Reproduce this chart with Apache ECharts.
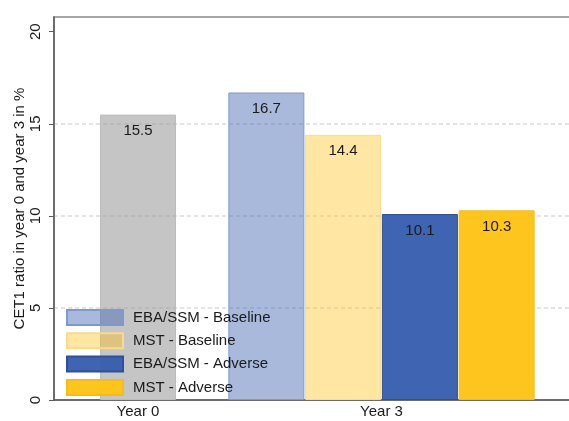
<!DOCTYPE html>
<html>
<head>
<meta charset="utf-8">
<script src="https://cdn.jsdelivr.net/npm/echarts@6/dist/echarts.min.js"></script>
<style>
  html, body { margin: 0; padding: 0; background: #fff; }
  #chart { width: 569px; height: 421px; }
</style>
</head>
<body>
<div id="chart"></div>
<script>
// CET1 ratio at the start (year 0) and end (year 3) of the stress horizon
const year0Categories = ['Year 0'];
const year3Categories = ['Year 3'];
const year0Name = 'Year 0 actual';
const year0Values = [15.5];
const scenarioNames = ['EBA/SSM - Baseline', 'MST - Baseline', 'EBA/SSM - Adverse', 'MST - Adverse'];
const year3Values = [16.7, 14.4, 10.1, 10.3];
const yTickValues = [0, 5, 10, 15, 20];
const yMin = 0;
const yTop = 20.8;   // plot region leaves a little headroom above the last tick

const FONT = 'Liberation Sans, Arial, sans-serif';
const FS = 15;
const scenarioFill = ['rgba(63,100,177,0.45)', 'rgba(254,196,25,0.40)', 'rgba(53,92,173,0.95)', 'rgba(254,196,25,0.98)'];
const scenarioEdge = ['#7f98d0', '#f6dc8c', '#2f4f9a', '#f3bd14'];

const chart = echarts.init(document.getElementById('chart'), null, { renderer: 'canvas' });

const plotTop = 17, plotBottom = 21;

const valueLabel = {
  show: true,
  position: 'insideTop',
  distance: 9,
  fontFamily: FONT,
  fontSize: FS,
  color: '#1a1a1a',
  formatter: p => p.value.toFixed(1)
};

const hiddenY = (idx) => ({ type: 'value', gridIndex: idx, min: yMin, max: yTop, show: false });

const series = [{
  name: year0Name,
  type: 'bar',
  xAxisIndex: 1,
  yAxisIndex: 1,
  barWidth: 76,
  data: year0Values,
  itemStyle: { color: 'rgba(150,150,150,0.55)', borderColor: '#bcbcbc', borderWidth: 1 },
  label: valueLabel
}];

scenarioNames.forEach((name, i) => {
  series.push({
    name: name,
    type: 'bar',
    xAxisIndex: 2,
    yAxisIndex: 2,
    barWidth: 76,
    barGap: '1%',
    data: [year3Values[i]],
    itemStyle: { color: scenarioFill[i], borderColor: scenarioEdge[i], borderWidth: 1 },
    label: valueLabel
  });
});

// dashed reference lines at 5, 10 and 15 only (0 is the axis, none at the top)
const gridLineColors = ['rgba(0,0,0,0)', '#dcdcdc', '#dcdcdc', '#dcdcdc', 'rgba(0,0,0,0)', 'rgba(0,0,0,0)'];

chart.setOption({
  animation: false,
  backgroundColor: '#fff',
  textStyle: { fontFamily: FONT },
  grid: [
    // frame with the value axis and dashed reference lines
    { left: 54, top: plotTop, bottom: plotBottom, width: 520, outerBoundsMode: 'none', show: true, borderColor: '#8a8a8a', borderWidth: 1.5, backgroundColor: 'transparent' },
    // Year 0 group
    { left: 54, top: plotTop, bottom: plotBottom, width: 168, outerBoundsMode: 'none' },
    // Year 3 group
    { left: 194, top: plotTop, bottom: plotBottom, width: 375, outerBoundsMode: 'none' }
  ],
  xAxis: [
    { type: 'category', gridIndex: 0, data: [''], axisLine: { show: true, lineStyle: { color: '#5a5a5a', width: 1.5 } }, axisTick: { show: false }, axisLabel: { show: false } },
    { type: 'category', gridIndex: 1, data: year0Categories, axisLine: { show: false }, axisTick: { show: false },
      axisLabel: { fontFamily: FONT, fontSize: FS, color: '#1a1a1a', margin: 4 } },
    { type: 'category', gridIndex: 2, data: year3Categories, axisLine: { show: false }, axisTick: { show: false },
      axisLabel: { fontFamily: FONT, fontSize: FS, color: '#1a1a1a', margin: 4 } }
  ],
  yAxis: [
    {
      type: 'value', gridIndex: 0, min: yMin, max: yTop, interval: 5,
      name: 'CET1 ratio in year 0 and year 3 in %',
      nameLocation: 'middle', nameGap: 27, nameMoveOverlap: false,
      nameTextStyle: { fontFamily: FONT, fontSize: FS, color: '#1a1a1a' },
      axisLine: { show: true, lineStyle: { color: '#5a5a5a', width: 1.5 } },
      axisTick: { show: true, length: 5, customValues: yTickValues, lineStyle: { color: '#5a5a5a', width: 1 } },
      axisLabel: { rotate: 90, customValues: yTickValues, fontFamily: FONT, fontSize: FS, color: '#1a1a1a', margin: 11 },
      splitLine: { show: true, lineStyle: { color: gridLineColors, width: 1.5, type: [4, 3] } }
    },
    hiddenY(1),
    hiddenY(2)
  ],
  legend: {
    data: scenarioNames,
    orient: 'vertical',
    left: 66,
    top: 309,
    itemWidth: 56,
    itemHeight: 15,
    itemGap: 6.3,
    icon: 'rect',
    padding: 0,
    textStyle: { fontFamily: FONT, fontSize: FS, lineHeight: 15, color: '#1a1a1a', padding: [0, 0, 0, 5] },
    selectedMode: false
  },
  series: series
});
</script>
</body>
</html>
